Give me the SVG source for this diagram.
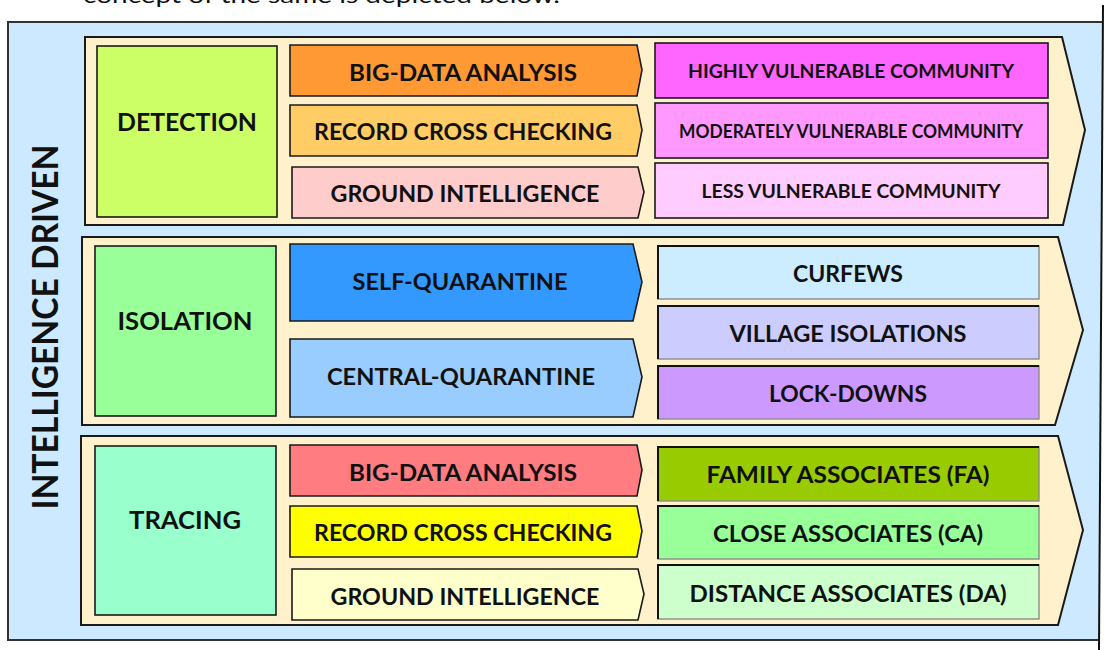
<svg xmlns="http://www.w3.org/2000/svg" width="1109" height="650" viewBox="0 0 1109 650">
<style>
.t{font-family:Lato,"Open Sans","Liberation Sans",sans-serif;font-weight:700;fill:#111;text-anchor:middle}
.m{font-size:23px}
.s{font-size:19px}
.c{font-size:25px}
.band{fill:#FFF1CC;stroke:#1a1a1a;stroke-width:2}
.box{stroke:#1a1a1a;stroke-width:1.6}
.soft{stroke:#8a8a8a;stroke-width:1.4}
.edge{fill:none;stroke:#111;stroke-width:2}
</style>
<rect width="1109" height="650" fill="#fff"/>
<text x="83" y="3" style="font-family:Lato,'Liberation Sans',sans-serif;font-size:22px;fill:#111" textLength="477" lengthAdjust="spacingAndGlyphs">concept of the same is depicted below.</text>
<g id="frame">
<path d="M1102,22 H8 V640 H1099" fill="#CCE9FF" stroke="#333" stroke-width="2"/>
<path d="M8,22 H1102 L1099,640 H8 Z" fill="#CCE9FF" stroke="none"/>
<path d="M1102,22 H8 V640 H1099" fill="none" stroke="#333" stroke-width="2"/>
<line x1="1103" y1="5" x2="1099" y2="650" stroke="#111" stroke-width="2"/>
<text class="t" transform="translate(58,327) rotate(-90)" style="font-size:36px" textLength="365" lengthAdjust="spacingAndGlyphs">INTELLIGENCE DRIVEN</text>
</g>
<g id="bands">
<path class="band" d="M85,37 H1062 L1085,130 L1063,225 H85 Z"/>
<path class="band" d="M82,237 H1058 L1083,330 L1055,425 H82 Z"/>
<path class="band" d="M81,436 H1058 L1083,530 L1058,625 H81 Z"/>
</g>
<g id="detection">
<rect class="box" x="97" y="46" width="180" height="171" fill="#CCFF66"/>
<text class="t c" x="187" y="131" textLength="140" lengthAdjust="spacingAndGlyphs">DETECTION</text>
</g>
<g id="det-bigdata">
<path class="box" d="M290,45 H637 L642,70 L637,96 H290 Z" fill="#FF9933"/>
<text class="t m" x="463" y="81" textLength="228" lengthAdjust="spacingAndGlyphs">BIG-DATA ANALYSIS</text>
</g>
<g id="det-record">
<path class="box" d="M290,105 H637 L642,130 L637,156 H290 Z" fill="#FFCC66"/>
<text class="t m" x="463" y="140" textLength="298" lengthAdjust="spacingAndGlyphs">RECORD CROSS CHECKING</text>
</g>
<g id="det-ground">
<path class="box" d="M292,167 H638 L644,192 L638,218 H292 Z" fill="#FFCCCC"/>
<text class="t m" x="465" y="202" textLength="269" lengthAdjust="spacingAndGlyphs">GROUND INTELLIGENCE</text>
</g>
<g id="det-high">
<rect class="box" x="655" y="43" width="393" height="55" fill="#FF66FF"/>
<text class="t s" x="851" y="78" textLength="326" lengthAdjust="spacingAndGlyphs">HIGHLY VULNERABLE COMMUNITY</text>
</g>
<g id="det-moderate">
<rect class="box" x="655" y="103" width="393" height="55" fill="#FF99FF"/>
<text class="t s" x="851" y="138" textLength="344" lengthAdjust="spacingAndGlyphs">MODERATELY VULNERABLE COMMUNITY</text>
</g>
<g id="det-less">
<rect class="box" x="655" y="163" width="393" height="55" fill="#FFCCFF"/>
<text class="t s" x="851" y="198" textLength="299" lengthAdjust="spacingAndGlyphs">LESS VULNERABLE COMMUNITY</text>
</g>
<g id="isolation">
<rect class="box" x="95" y="246" width="181" height="170" fill="#99FF99"/>
<text class="t c" x="185" y="330" textLength="135" lengthAdjust="spacingAndGlyphs">ISOLATION</text>
</g>
<g id="iso-self">
<path class="box" d="M290,244 H633 L642,282 L633,321 H290 Z" fill="#3399FF"/>
<text class="t m" x="460" y="290" textLength="215" lengthAdjust="spacingAndGlyphs">SELF-QUARANTINE</text>
</g>
<g id="iso-central">
<path class="box" d="M290,339 H633 L642,377 L633,417 H290 Z" fill="#99CCFF"/>
<text class="t m" x="461" y="385" textLength="268" lengthAdjust="spacingAndGlyphs">CENTRAL-QUARANTINE</text>
</g>
<g id="iso-curfews">
<rect class="soft" x="658" y="246" width="381" height="53" fill="#CCECFF"/>
<path class="edge" d="M658,299 V246 H1039"/>
<text class="t m" x="848" y="282" textLength="110" lengthAdjust="spacingAndGlyphs">CURFEWS</text>
</g>
<g id="iso-village">
<rect class="soft" x="658" y="306" width="381" height="53" fill="#CCCCFF"/>
<path class="edge" d="M658,359 V306 H1039"/>
<text class="t m" x="848" y="342" textLength="237" lengthAdjust="spacingAndGlyphs">VILLAGE ISOLATIONS</text>
</g>
<g id="iso-lock">
<rect class="soft" x="658" y="366" width="381" height="53" fill="#CC99FF"/>
<path class="edge" d="M658,419 V366 H1039"/>
<text class="t m" x="848" y="402" textLength="158" lengthAdjust="spacingAndGlyphs">LOCK-DOWNS</text>
</g>
<g id="tracing">
<rect class="box" x="95" y="446" width="181" height="169" fill="#99FFCC"/>
<text class="t c" x="185" y="529" textLength="112" lengthAdjust="spacingAndGlyphs">TRACING</text>
</g>
<g id="tr-bigdata">
<path class="box" d="M290,445 H637 L642,470 L637,496 H290 Z" fill="#FF7C80"/>
<text class="t m" x="463" y="481" textLength="228" lengthAdjust="spacingAndGlyphs">BIG-DATA ANALYSIS</text>
</g>
<g id="tr-record">
<path class="box" d="M290,506 H637 L642,531 L637,557 H290 Z" fill="#FFFF00"/>
<text class="t m" x="463" y="541" textLength="298" lengthAdjust="spacingAndGlyphs">RECORD CROSS CHECKING</text>
</g>
<g id="tr-ground">
<path class="box" d="M292,569 H638 L644,594 L638,620 H292 Z" fill="#FFFFCC"/>
<text class="t m" x="465" y="605" textLength="269" lengthAdjust="spacingAndGlyphs">GROUND INTELLIGENCE</text>
</g>
<g id="tr-family">
<rect class="soft" x="658" y="447" width="381" height="54" fill="#99CC00"/>
<path class="edge" d="M658,501 V447 H1039"/>
<text class="t m" x="848" y="483" textLength="283" lengthAdjust="spacingAndGlyphs">FAMILY ASSOCIATES (FA)</text>
</g>
<g id="tr-close">
<rect class="soft" x="658" y="506" width="381" height="53" fill="#99FF99"/>
<path class="edge" d="M658,559 V506 H1039"/>
<text class="t m" x="848" y="542" textLength="270" lengthAdjust="spacingAndGlyphs">CLOSE ASSOCIATES (CA)</text>
</g>
<g id="tr-distance">
<rect class="soft" x="658" y="565" width="381" height="54" fill="#CCFFCC"/>
<path class="edge" d="M658,619 V565 H1039"/>
<text class="t m" x="848" y="602" textLength="317" lengthAdjust="spacingAndGlyphs">DISTANCE ASSOCIATES (DA)</text>
</g>
</svg>
